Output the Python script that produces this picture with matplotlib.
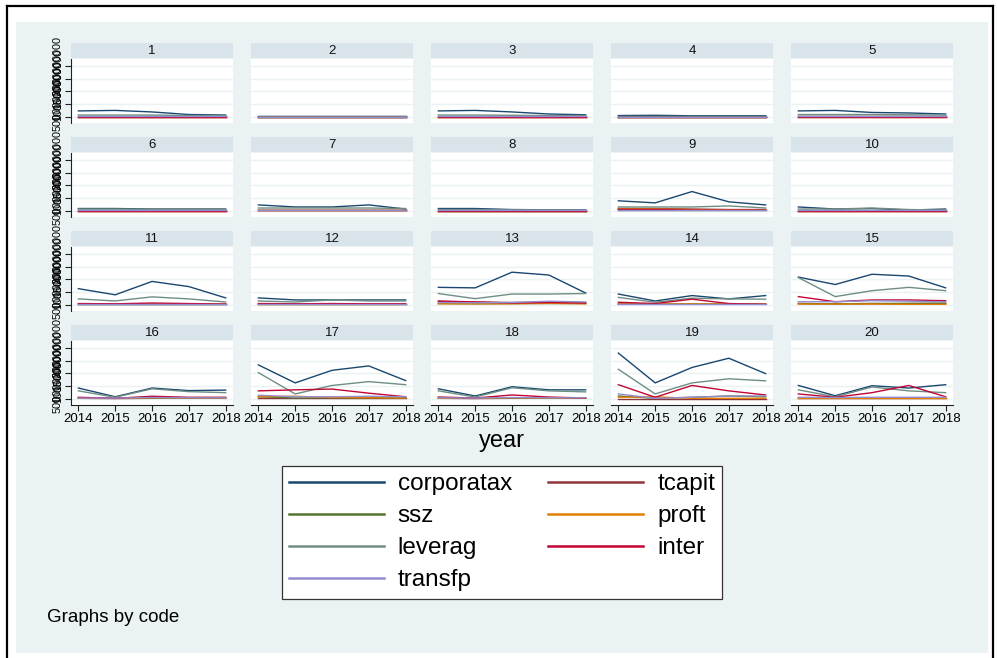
import matplotlib
matplotlib.use("Agg")
import matplotlib.pyplot as plt
from matplotlib.lines import Line2D
from matplotlib.patches import Rectangle

plt.rcParams['font.family'] = ['Liberation Sans', 'DejaVu Sans']

# ---- data (values in hundreds of millions) ----
years = [2014, 2015, 2016, 2017, 2018]
codes = list(range(1, 21))

corporatax = [
    [2.4, 2.6, 2.0, 1.0, 0.8], [0.4, 0.4, 0.4, 0.4, 0.4], [2.4, 2.6, 2.0, 1.2, 0.9],
    [0.6, 0.7, 0.5, 0.5, 0.5], [2.4, 2.6, 1.8, 1.6, 1.2], [1.0, 1.0, 0.8, 0.8, 0.8],
    [2.4, 1.6, 1.6, 2.4, 0.8], [1.0, 1.0, 0.6, 0.5, 0.5], [4.0, 3.2, 7.6, 3.6, 2.4],
    [1.6, 0.8, 1.0, 0.4, 0.8], [6.4, 4.0, 9.2, 7.2, 2.8], [2.8, 2.0, 2.0, 2.0, 2.0],
    [6.9, 6.7, 12.8, 11.7, 4.7], [4.3, 1.6, 3.7, 2.4, 3.7], [10.9, 8.0, 12.0, 11.3, 6.7],
    [4.3, 0.9, 4.3, 3.3, 3.5], [13.3, 6.3, 11.2, 12.9, 7.2], [4.0, 1.2, 4.8, 3.6, 3.6],
    [17.9, 6.3, 12.3, 15.9, 9.9], [5.3, 1.3, 5.2, 4.3, 5.6],
]
tcapit = [
    [0.2, 0.2, 0.2, 0.2, 0.2], [0.1, 0.1, 0.1, 0.1, 0.1], [0.2, 0.2, 0.2, 0.2, 0.2],
    [0.1, 0.1, 0.1, 0.1, 0.1], [0.3, 0.3, 0.3, 0.3, 0.3], [0.2, 0.2, 0.2, 0.2, 0.2],
    [0.3, 0.3, 0.3, 0.3, 0.3], [0.2, 0.2, 0.2, 0.2, 0.2], [1.0, 1.0, 0.8, 0.6, 0.6],
    [0.2, 0.2, 0.2, 0.2, 0.2], [0.4, 0.4, 0.4, 0.4, 0.4], [0.4, 0.3, 0.3, 0.3, 0.3],
    [1.4, 1.2, 1.0, 1.2, 1.0], [0.4, 0.3, 0.4, 0.3, 0.3], [0.6, 0.5, 0.6, 0.5, 0.5],
    [0.3, 0.2, 0.3, 0.3, 0.3], [0.4, 0.4, 0.4, 0.4, 0.4], [0.3, 0.2, 0.3, 0.3, 0.3],
    [0.2, 0.2, 0.2, 0.2, 0.2], [0.3, 0.3, 0.3, 0.3, 0.3],
]
ssz = [
    [0.3, 0.3, 0.3, 0.3, 0.3], [0.1, 0.1, 0.1, 0.1, 0.1], [0.3, 0.3, 0.3, 0.3, 0.3],
    [0.2, 0.2, 0.2, 0.2, 0.2], [0.4, 0.4, 0.4, 0.4, 0.4], [0.3, 0.3, 0.3, 0.3, 0.3],
    [0.4, 0.4, 0.4, 0.4, 0.4], [0.2, 0.2, 0.2, 0.2, 0.2], [0.6, 0.6, 0.6, 0.6, 0.6],
    [0.3, 0.3, 0.3, 0.3, 0.3], [0.5, 0.5, 0.5, 0.5, 0.5], [0.4, 0.4, 0.4, 0.4, 0.4],
    [0.6, 0.5, 0.6, 0.6, 0.6], [0.4, 0.3, 0.4, 0.4, 0.4], [0.6, 0.5, 0.6, 0.7, 0.8],
    [0.4, 0.3, 0.4, 0.4, 0.4], [0.9, 0.4, 0.5, 0.5, 0.5], [0.4, 0.3, 0.4, 0.4, 0.4],
    [1.2, 0.3, 0.7, 1.2, 0.9], [0.4, 0.3, 0.4, 0.4, 0.4],
]
proft = [
    [0.2, 0.2, 0.2, 0.2, 0.2], [0.1, 0.1, 0.1, 0.1, 0.1], [0.2, 0.2, 0.2, 0.2, 0.2],
    [0.1, 0.1, 0.1, 0.1, 0.1], [0.2, 0.2, 0.2, 0.2, 0.2], [0.2, 0.2, 0.2, 0.2, 0.2],
    [0.3, 0.3, 0.3, 0.3, 0.3], [0.2, 0.2, 0.2, 0.2, 0.2], [0.8, 0.8, 0.6, 0.5, 0.5],
    [0.2, 0.2, 0.2, 0.2, 0.2], [0.4, 0.4, 0.5, 0.4, 0.4], [0.3, 0.3, 0.3, 0.3, 0.3],
    [0.5, 0.5, 0.5, 0.7, 0.5], [0.4, 0.4, 0.5, 0.4, 0.4], [0.4, 0.4, 0.4, 0.3, 0.3],
    [0.3, 0.3, 0.5, 0.4, 0.4], [0.9, 1.1, 0.6, 0.5, 0.4], [0.3, 0.3, 0.5, 0.4, 0.3],
    [0.7, 0.9, 0.3, 0.3, 0.3], [0.4, 0.4, 0.4, 0.4, 0.4],
]
leverag = [
    [0.8, 0.8, 0.8, 0.6, 0.6], [0.3, 0.3, 0.3, 0.3, 0.3], [0.8, 0.8, 0.7, 0.6, 0.6],
    [0.4, 0.4, 0.4, 0.4, 0.4], [1.0, 1.0, 1.0, 0.9, 0.8], [0.8, 0.8, 0.7, 0.7, 0.7],
    [1.2, 1.2, 1.2, 1.2, 1.0], [0.6, 0.6, 0.5, 0.5, 0.5], [1.6, 1.6, 1.6, 2.0, 1.2],
    [0.8, 0.8, 1.2, 0.6, 0.4], [2.4, 1.6, 3.2, 2.4, 1.2], [1.6, 1.2, 2.0, 1.6, 1.6],
    [4.5, 2.5, 4.3, 4.3, 4.5], [3.0, 1.1, 2.7, 2.4, 2.3], [10.7, 3.3, 5.6, 6.9, 5.6],
    [3.2, 0.7, 4.0, 2.9, 2.5], [10.3, 2.0, 5.3, 6.8, 5.6], [3.2, 0.8, 4.4, 3.2, 2.8],
    [11.6, 2.0, 6.3, 7.9, 7.1], [3.6, 0.9, 4.7, 3.2, 2.5],
]
inter = [
    [0.2, 0.2, 0.2, 0.2, 0.2], [0.1, 0.1, 0.1, 0.1, 0.1], [0.2, 0.2, 0.2, 0.2, 0.2],
    [0.1, 0.1, 0.1, 0.1, 0.1], [0.2, 0.2, 0.2, 0.2, 0.2], [0.2, 0.2, 0.2, 0.2, 0.2],
    [0.3, 0.3, 0.3, 0.3, 0.3], [0.2, 0.2, 0.2, 0.2, 0.2], [0.6, 0.6, 0.4, 0.4, 0.4],
    [0.2, 0.2, 0.2, 0.2, 0.2], [0.6, 0.5, 0.8, 0.6, 0.4], [0.6, 0.5, 0.6, 0.5, 0.5],
    [1.6, 1.2, 0.8, 1.0, 0.8], [1.1, 0.6, 2.3, 0.6, 0.3], [3.3, 1.3, 2.0, 2.0, 1.7],
    [0.7, 0.3, 1.1, 0.7, 0.7], [3.2, 3.6, 3.9, 2.3, 0.9], [0.8, 0.4, 1.6, 0.8, 0.4],
    [5.6, 0.7, 5.3, 3.2, 1.6], [2.0, 0.7, 2.5, 5.3, 0.9],
]
transfp = [
    [0.3, 0.3, 0.3, 0.3, 0.3], [0.2, 0.2, 0.2, 0.2, 0.2], [0.3, 0.3, 0.3, 0.3, 0.3],
    [0.2, 0.2, 0.2, 0.2, 0.2], [0.4, 0.4, 0.4, 0.4, 0.4], [0.3, 0.3, 0.3, 0.3, 0.3],
    [0.5, 0.5, 0.5, 0.5, 0.5], [0.3, 0.3, 0.3, 0.3, 0.3], [0.6, 0.6, 0.6, 0.6, 0.6],
    [0.3, 0.3, 0.3, 0.3, 0.3], [0.6, 0.6, 0.6, 0.6, 0.6], [0.6, 0.6, 0.6, 0.6, 0.6],
    [1.0, 0.9, 1.0, 1.5, 1.2], [0.5, 0.5, 0.5, 0.5, 0.5], [1.3, 1.3, 1.7, 1.5, 1.3],
    [0.4, 0.4, 0.6, 0.5, 0.5], [1.5, 0.9, 0.9, 1.1, 0.9], [0.5, 0.4, 0.6, 0.5, 0.5],
    [2.0, 0.3, 0.7, 1.2, 1.2], [0.7, 0.6, 0.7, 0.7, 0.7],
]

series_names = ["corporatax", "tcapit", "ssz", "proft", "leverag", "inter", "transfp"]
series_data = [corporatax, tcapit, ssz, proft, leverag, inter, transfp]
series_colors = ["#1a476f", "#90353b", "#55752f", "#e37e00", "#6e8e84", "#c10534", "#938dd2"]

y_ticks = [0, 5, 10, 15, 20]
y_tick_labels = ["0", "500000000", "1000000000", "1500000000", "2000000000"]

# ---- figure layout (pixel geometry) ----
W, H = 997, 658
fig = plt.figure(figsize=(W / 100, H / 100), dpi=100)
fig.patch.set_facecolor("white")

def fx(px):
    return px / W

def fy(py):
    return 1 - py / H

BG = "#eaf2f3"
STRIP = "#d9e4ea"
GRID = "#eaf2f3"
AXC = "#222222"

# outer frame and graph region
fig.add_artist(Rectangle((fx(16), fy(653)), fx(988) - fx(16), fy(22) - fy(653),
                         transform=fig.transFigure, facecolor=BG, edgecolor="none", zorder=0))
for xs, ys in [((7, 7), (6, 658)), ((7, 993), (6, 6)), ((993, 993), (6, 658))]:
    fig.add_artist(Line2D([fx(xs[0]), fx(xs[1])], [fy(ys[0]), fy(ys[1])],
                          transform=fig.transFigure, color="black", lw=1.6, zorder=1))

col_left0, col_step, col_w = 71, 180, 162
row_top0, row_step = 59, 94
plot_h = 64
strip_h = 15

for i, code in enumerate(codes):
    r, c = divmod(i, 5)
    left = col_left0 + c * col_step
    top = row_top0 + r * row_step
    ax = fig.add_axes([fx(left), fy(top + plot_h), fx(col_w), plot_h / H])
    ax.set_facecolor("white")

    # panel strip
    s_top = top - 16
    sax = fig.add_axes([fx(left), fy(s_top + strip_h), fx(col_w), strip_h / H])
    sax.set_facecolor(STRIP)
    sax.set_xticks([]); sax.set_yticks([])
    for sp in sax.spines.values():
        sp.set_visible(False)
    sax.text(0.5, 0.5, str(code), ha="center", va="center", fontsize=9.5,
             color="#111111", transform=sax.transAxes)

    for name, data, col in zip(series_names, series_data, series_colors):
        ax.plot(years, data[i], color=col, lw=1.0, solid_joinstyle="miter")

    ax.set_xlim(2013.8, 2018.2)
    ax.set_ylim(-2.3, 22.6)
    ax.set_yticks(y_ticks)
    ax.yaxis.grid(True, color=GRID, lw=1.0)
    ax.set_axisbelow(True)
    for sp in ["top", "right"]:
        ax.spines[sp].set_visible(False)

    if c == 0:
        ax.spines["left"].set_color(AXC)
        ax.spines["left"].set_linewidth(0.8)
        ax.set_yticklabels(y_tick_labels, rotation=90, va="center", fontsize=7.8)
        ax.tick_params(axis="y", length=4, width=0.8, color=AXC, pad=2)
    else:
        ax.spines["left"].set_visible(False)
        ax.tick_params(axis="y", length=0, labelleft=False)

    ax.set_xticks(years)
    if r == 3:
        ax.spines["bottom"].set_color(AXC)
        ax.spines["bottom"].set_linewidth(0.8)
        ax.set_xticklabels([str(y) for y in years], fontsize=9.5)
        ax.tick_params(axis="x", length=4, width=0.8, color=AXC, pad=1.5)
    else:
        ax.spines["bottom"].set_visible(False)
        ax.tick_params(axis="x", length=0, labelbottom=False)

fig.text(fx(502), fy(441), "year", ha="center", va="center", fontsize=17)

# legend: two columns, row-wise order
order = [0, 2, 4, 6, 1, 3, 5]
handles = [Line2D([], [], color=series_colors[k], lw=1.8) for k in order]
labels = [series_names[k] for k in order]
leg = fig.legend(handles, labels, ncol=2, loc="upper center",
                 bbox_to_anchor=(fx(502), fy(466)), fontsize=17.5,
                 handlelength=3.9, handletextpad=0.58, columnspacing=1.5,
                 labelspacing=0.41, borderpad=0.3, borderaxespad=0,
                 frameon=True, fancybox=False, framealpha=1.0)
leg.get_frame().set_facecolor("white")
leg.get_frame().set_edgecolor("#333333")
leg.get_frame().set_linewidth(0.9)

fig.text(fx(47), fy(622), "Graphs by code", ha="left", va="baseline", fontsize=13.5)

fig.savefig("out.png", dpi=100, facecolor="white")
